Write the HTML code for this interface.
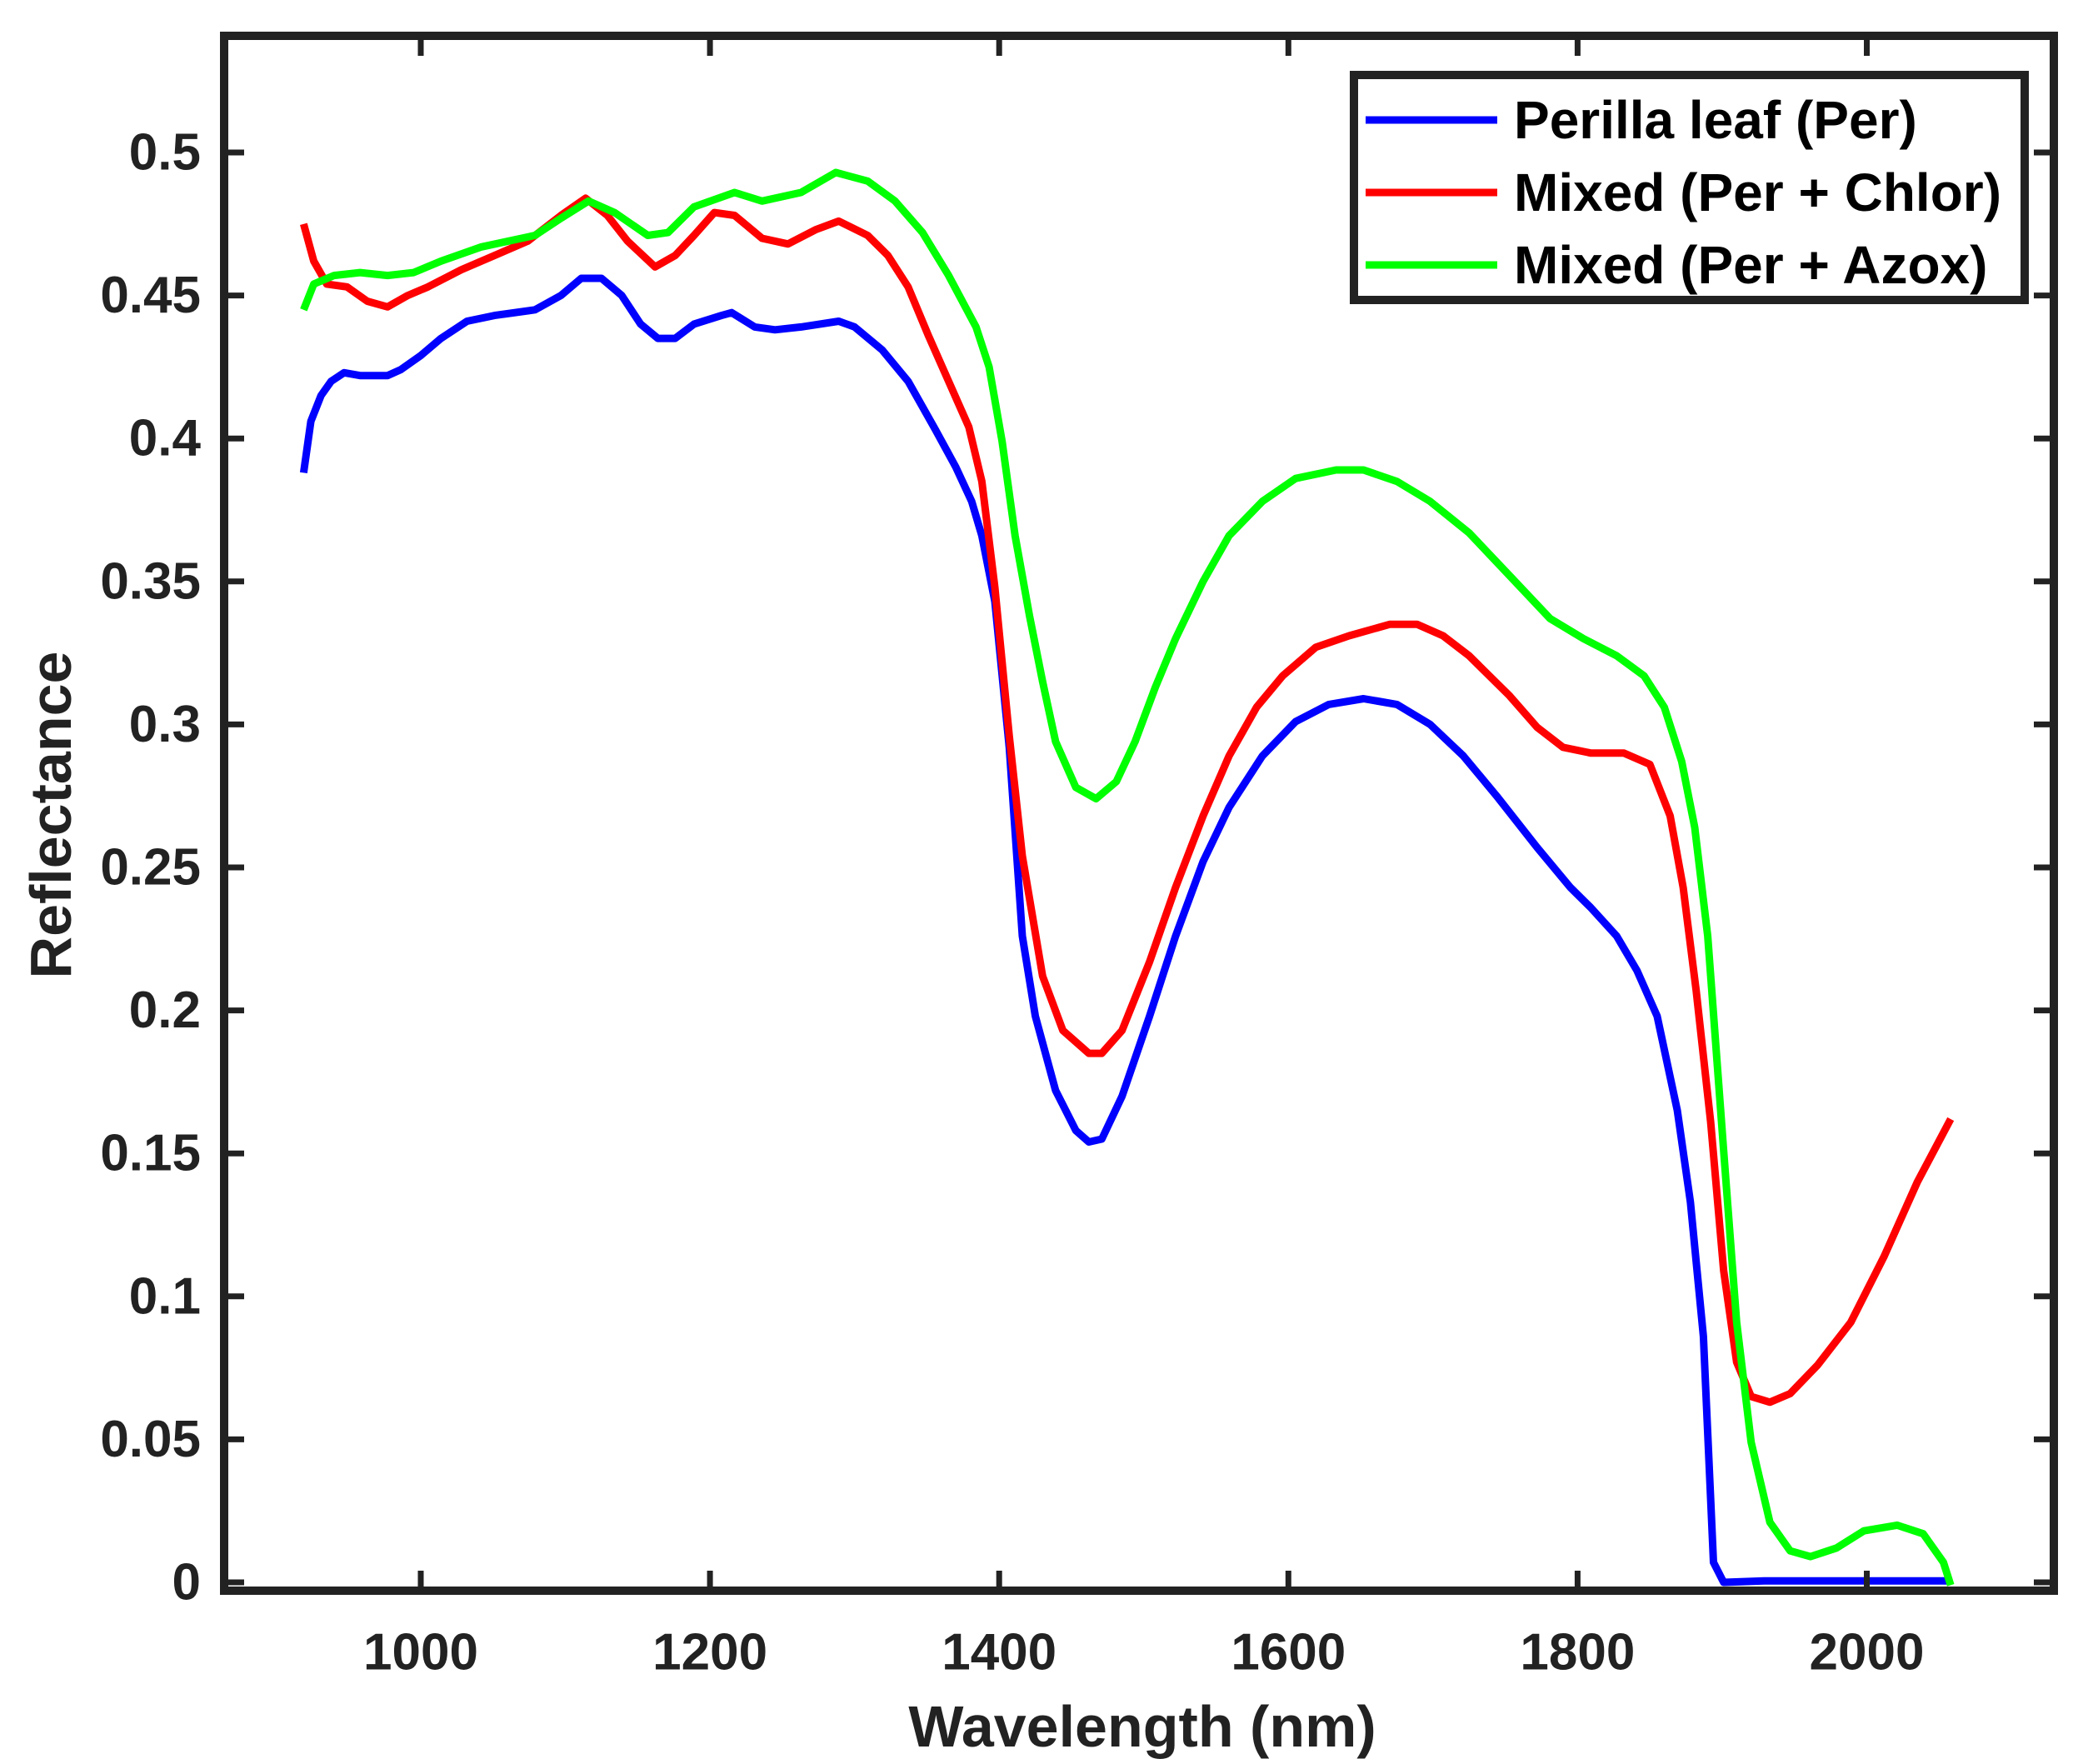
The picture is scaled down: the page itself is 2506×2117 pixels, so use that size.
<!DOCTYPE html>
<html><head><meta charset="utf-8"><style>
html,body{margin:0;padding:0;background:#fff;}
svg{display:block;font-family:"Liberation Sans",Arial,sans-serif;font-weight:bold;}
</style></head>
<body>
<svg id="chart" width="2506" height="2117" viewBox="0 0 2506 2117" xmlns="http://www.w3.org/2000/svg">
<rect width="2506" height="2117" fill="#fff"/>
<g id="plot"></g>
<g id="axes"></g>
<text x="1371" y="2072" font-size="70" fill="#222" text-anchor="middle" dominant-baseline="central">Wavelength (nm)</text>
<text x="61" y="978" font-size="70" fill="#222" text-anchor="middle" dominant-baseline="central" transform="rotate(-90 61 978)">Reflectance</text>
<g id="legend"></g>
</svg>
<script>
const xTicks=[1000,1200,1400,1600,1800,2000];
const yTicks=[0,0.05,0.1,0.15,0.2,0.25,0.3,0.35,0.4,0.45,0.5];
const yTickLabels=["0","0.05","0.1","0.15","0.2","0.25","0.3","0.35","0.4","0.45","0.5"];
const seriesNames=["Perilla leaf (Per)","Mixed (Per + Chlor)","Mixed (Per + Azox)"];
const perWl=[919,924,931,938,947,958,977,986,1000,1014,1032,1051,1079,1097,1111,1125,1139,1152,1164,1176,1189,1208,1215,1231,1245,1263,1289,1300,1319,1337,1356,1370,1381,1388,1397,1407,1416,1425,1439,1453,1462,1471,1485,1504,1522,1541,1559,1582,1605,1628,1652,1675,1698,1721,1744,1772,1795,1809,1827,1841,1855,1869,1878,1887,1894,1901,1929,2058];
const perVal=[.388,.406,.415,.420,.423,.422,.422,.424,.429,.435,.441,.443,.445,.450,.456,.456,.450,.440,.435,.435,.440,.443,.444,.439,.438,.439,.441,.439,.431,.420,.403,.390,.378,.366,.343,.292,.226,.198,.172,.158,.154,.155,.170,.198,.226,.252,.271,.289,.301,.307,.309,.307,.300,.289,.275,.257,.243,.236,.226,.214,.198,.165,.133,.086,.007,0,.0005,.0005];
const chlorWl=[919,926,935,949,963,977,991,1005,1028,1051,1074,1097,1114,1129,1143,1162,1176,1189,1203,1217,1236,1254,1273,1289,1309,1323,1337,1351,1365,1379,1388,1397,1407,1416,1430,1444,1462,1471,1485,1504,1522,1541,1559,1578,1596,1619,1642,1670,1689,1707,1725,1753,1772,1790,1809,1832,1850,1864,1873,1882,1892,1901,1910,1920,1933,1947,1966,1989,2012,2035,2058];
const chlorVal=[.475,.462,.454,.453,.448,.446,.450,.453,.459,.464,.469,.478,.484,.478,.469,.460,.464,.471,.479,.478,.470,.468,.473,.476,.471,.464,.453,.436,.420,.404,.385,.348,.296,.254,.212,.193,.185,.185,.193,.217,.243,.268,.289,.306,.317,.327,.331,.335,.335,.331,.324,.310,.299,.292,.290,.290,.286,.268,.243,.207,.161,.109,.077,.065,.063,.066,.076,.091,.114,.140,.162];
const azoxWl=[919,926,940,958,977,995,1014,1042,1079,1097,1116,1134,1157,1171,1189,1217,1236,1263,1287,1309,1328,1347,1365,1384,1393,1402,1411,1421,1430,1439,1453,1467,1481,1494,1508,1522,1541,1559,1582,1605,1633,1652,1675,1698,1725,1753,1781,1804,1827,1846,1860,1872,1881,1890,1901,1910,1920,1933,1947,1961,1979,1998,2021,2039,2053,2058];
const azoxVal=[.445,.454,.457,.458,.457,.458,.462,.467,.471,.477,.483,.479,.471,.472,.481,.486,.483,.486,.493,.490,.483,.472,.457,.439,.425,.399,.366,.338,.315,.294,.278,.274,.280,.294,.313,.330,.350,.366,.378,.386,.389,.389,.385,.378,.367,.352,.337,.330,.324,.317,.306,.287,.264,.226,.151,.091,.049,.021,.011,.009,.012,.018,.020,.017,.007,-0.001];

const NS="http://www.w3.org/2000/svg";
const L=269,R=2465,T=43,B=1909;
function xs(nm){return 505+(nm-1000)*1.7355;}
function ys(v){return 1899-v*3432;}
function mk(tag,attrs,parent){const e=document.createElementNS(NS,tag);for(const k in attrs)e.setAttribute(k,attrs[k]);parent.appendChild(e);return e;}
const plot=document.getElementById('plot'),axes=document.getElementById('axes'),legend=document.getElementById('legend');
const colors=["#0000ff","#ff0000","#00ff00"];
const wls=[perWl,chlorWl,azoxWl],vals=[perVal,chlorVal,azoxVal];
const lineNames=['line-perilla','line-per-chlor','line-per-azox'];
for(let s=0;s<3;s++){
  const d=wls[s].map((w,i)=>(i?'L':'M')+xs(w).toFixed(1)+' '+ys(vals[s][i]).toFixed(1)).join(' ');
  const p=mk('path',{d:d,fill:'none',stroke:colors[s],'stroke-width':9,'stroke-linejoin':'round'},plot);
  
  
}
xTicks.forEach(t=>{
  const x=xs(t);
  const a=mk('line',{x1:x,x2:x,y1:B,y2:B-24,stroke:'#222','stroke-width':7},axes);
  
  
  const b=mk('line',{x1:x,x2:x,y1:T,y2:T+24,stroke:'#222','stroke-width':7},axes);
  
  
  const tx=mk('text',{x:x,y:1983,'font-size':62,fill:'#222','text-anchor':'middle','dominant-baseline':'central'},axes);
  tx.textContent=t;
  
  
});
yTicks.forEach((t,i)=>{
  const y=ys(t);
  const a=mk('line',{x1:L,x2:L+24,y1:y,y2:y,stroke:'#222','stroke-width':7},axes);
  
  
  const b=mk('line',{x1:R,x2:R-24,y1:y,y2:y,stroke:'#222','stroke-width':7},axes);
  
  
  const tx=mk('text',{x:241,y:y,'font-size':62,fill:'#222','text-anchor':'end','dominant-baseline':'central'},axes);
  tx.textContent=yTickLabels[i];
  
  
});
const frame=mk('rect',{x:L,y:T,width:R-L,height:B-T,fill:'none',stroke:'#222','stroke-width':10},axes);


const box=mk('rect',{x:1625,y:90,width:805,height:270,fill:'#fff',stroke:'#222','stroke-width':10},legend);


const rowY=[144,231,318];
for(let s=0;s<3;s++){
  const ln=mk('line',{x1:1639,x2:1797,y1:rowY[s],y2:rowY[s],stroke:colors[s],'stroke-width':9},legend);
  
  
  const tx=mk('text',{x:1817,y:rowY[s],'font-size':64,fill:'#000','dominant-baseline':'central'},legend);
  tx.textContent=seriesNames[s];
  
  
}
</script>
</body></html>
